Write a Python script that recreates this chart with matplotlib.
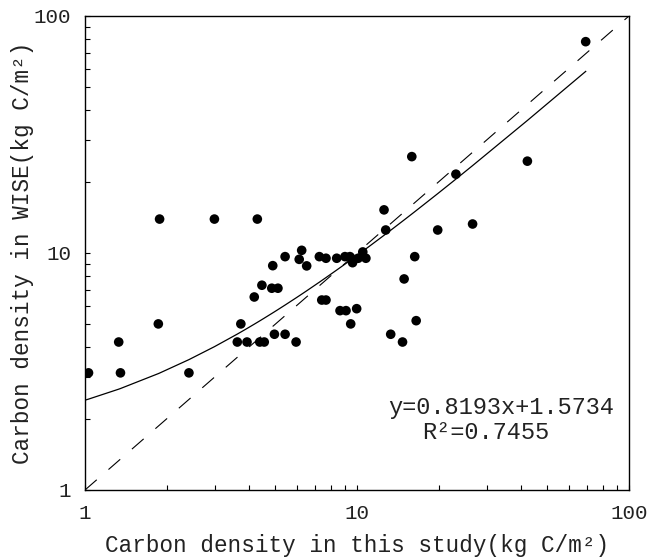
import matplotlib
matplotlib.use("Agg")
import matplotlib.pyplot as plt
import numpy as np
from matplotlib.ticker import LogLocator, NullFormatter, FixedLocator, FixedFormatter

plt.rcParams['font.family'] = ['Liberation Mono', 'DejaVu Sans']

# carbon density, this study (x) vs WISE (y), kg C/m2
x_study = [1.03, 1.33, 1.35, 1.86, 1.88, 2.41, 2.99, 3.63, 3.74, 3.94,
           4.19, 4.30, 4.39, 4.47, 4.56, 4.86, 4.90, 4.97, 5.12, 5.44,
           5.44, 5.97, 6.13, 6.26, 6.53, 7.27, 7.42, 7.69, 7.69, 8.42,
           8.66, 9.03, 9.11, 9.42, 9.48, 9.63, 9.97, 10.1, 10.5, 10.78,
           12.57, 12.75, 13.3, 14.7, 14.9, 15.9, 16.3, 16.5, 19.8, 23.1,
           26.6, 42.3, 69.3]
y_wise = [3.12, 4.21, 3.12, 5.02, 13.9, 3.12, 13.9, 4.21, 5.02, 4.21,
          6.52, 13.9, 4.21, 7.31, 4.21, 7.10, 8.84, 4.54, 7.10, 9.65,
          4.54, 4.21, 9.40, 10.26, 8.82, 9.65, 6.33, 9.50, 6.33, 9.50,
          5.71, 9.65, 5.71, 9.65, 5.02, 9.10, 5.82, 9.50, 10.1, 9.50,
          15.2, 12.5, 4.54, 4.21, 7.77, 25.5, 9.65, 5.18, 12.5, 21.5,
          13.25, 24.4, 77.9]

slope = 0.8193
intercept = 1.5734
r2 = 0.7455
axis_min, axis_max = 1, 100
tick_vals = [1, 10, 100]
tick_labels = ["1", "10", "100"]

fig = plt.figure(figsize=(6.48, 5.58), dpi=100)
ax = fig.add_axes([0.1312, 0.1219, 0.8395, 0.8495])

# fitted line, evaluated at the data x values
fit_x = np.r_[axis_min, np.unique(x_study)]
fit_y = slope * fit_x + intercept
ax.plot(fit_x, fit_y, color='black', lw=0.9)

# 1:1 line
ax.plot([axis_min, axis_max], [axis_min, axis_max], color='black', lw=0.8,
        linestyle=(0, (14, 14)))

ax.scatter(x_study, y_wise, s=48, color='black', edgecolors='none', zorder=3)

ax.set_xscale('log')
ax.set_yscale('log')
ax.set_xlim(axis_min, axis_max)
ax.set_ylim(axis_min, axis_max)

for axis in (ax.xaxis, ax.yaxis):
    axis.set_major_locator(FixedLocator(tick_vals))
    axis.set_major_formatter(FixedFormatter(tick_labels))
    axis.set_minor_locator(LogLocator(base=10, subs=np.arange(2, 10)))
    axis.set_minor_formatter(NullFormatter())

ax.tick_params(which='both', direction='in', top=False, right=False,
               length=3.3, width=0.8, colors='black')
ax.tick_params(which='major', labelsize=15, pad=10, labelcolor='#222222')

for sp in ax.spines.values():
    sp.set_linewidth(1.0)

ax.set_xlabel("Carbon density in this study(kg C/m²)", fontsize=16.3,
              color='#222222', labelpad=8)
ax.set_ylabel("Carbon density in WISE(kg C/m²)", fontsize=16.3,
              color='#222222', labelpad=0)

ax.text(0.557, 0.175, "y=%.4fx+%.4f" % (slope, intercept), transform=ax.transAxes,
        fontsize=17, ha='left', va='center', color='#222222')
ax.text(0.619, 0.121, "R²=%.4f" % r2, transform=ax.transAxes,
        fontsize=17, ha='left', va='center', color='#222222')

fig.savefig("out.png", dpi=100)
